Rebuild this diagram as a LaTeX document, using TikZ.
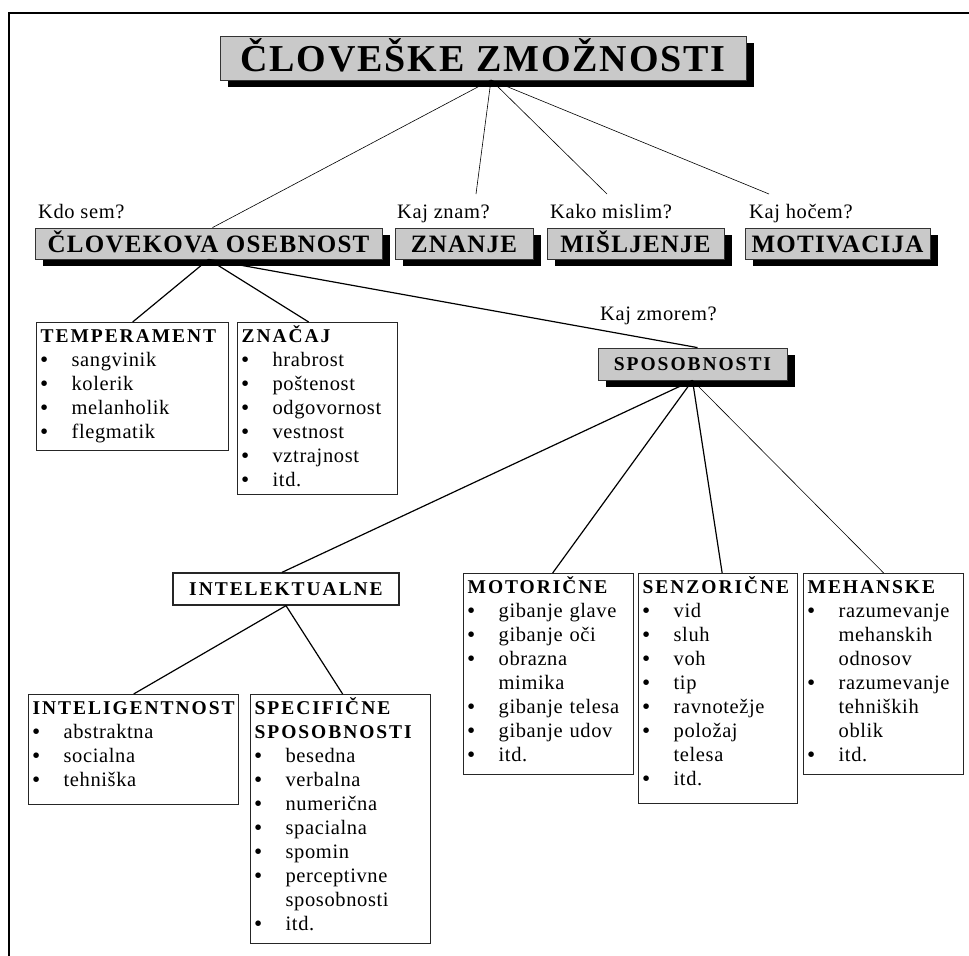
\documentclass[tikz,border=0pt]{standalone}
\usepackage{fontspec}
\setmainfont{Liberation Serif}[LetterSpace=3]
\newfontfamily\hdfont{Liberation Serif}[LetterSpace=10]
\newfontfamily\hdbigfont{Liberation Serif}[LetterSpace=5]
\usepackage{tikz}
\usetikzlibrary{shadows}

\newcommand{\hd}[1]{\mbox{\hdfont\bfseries\fontsize{19.5bp}{24bp}\selectfont #1}}
\newcommand{\blt}[1]{\mbox{\makebox[31bp][l]{\bfseries\textbullet}#1}}
\newcommand{\bltc}[1]{\mbox{\hspace*{31bp}#1}}

\begin{document}
\begin{tikzpicture}[font=\fontsize{20.5bp}{24bp}\selectfont,
  gbox/.style={draw=black!80,line width=0.8bp,fill=black!21,inner sep=0pt,text depth=0bp,
    drop shadow={shadow xshift=8bp,shadow yshift=-7bp,opacity=1,fill=black}},
  lbox/.style={draw=black!85,line width=1.3bp,fill=white,anchor=north west,align=left,
    inner xsep=4bp,inner ysep=0pt,text height=20bp},
  ask/.style={anchor=base west,inner sep=0pt},
  slimline/.style={line width=0.6bp},
  boldline/.style={line width=1.2bp}]

\useasboundingbox (0bp,0bp) rectangle (969bp,-956bp);
\draw [line width=1.2bp] (9bp,-956bp) -- (9bp,-13bp) -- (969bp,-13bp);

\node (CZ) at (483bp,-58bp)[gbox,minimum width=526bp,minimum height=44bp,text height=27bp,
  font=\hdbigfont\bfseries\fontsize{38bp}{40bp}\selectfont] {ČLOVEŠKE ZMOŽNOSTI};

\node (CO) at (208.5bp,-243.5bp)[gbox,minimum width=347bp,minimum height=31bp,text height=17bp,
  font=\hdbigfont\bfseries\fontsize{25bp}{30bp}\selectfont] {ČLOVEKOVA OSEBNOST};
\node (ZN) at (464bp,-243.5bp)[gbox,minimum width=138bp,minimum height=31bp,text height=17bp,
  font=\hdbigfont\bfseries\fontsize{25bp}{30bp}\selectfont] {ZNANJE};
\node (MI) at (635.5bp,-243.5bp)[gbox,minimum width=177bp,minimum height=31bp,text height=17bp,
  font=\hdbigfont\bfseries\fontsize{25bp}{30bp}\selectfont] {MIŠLJENJE};
\node (MO) at (837.5bp,-243.5bp)[gbox,minimum width=185bp,minimum height=31bp,text height=17bp,
  font=\hdbigfont\bfseries\fontsize{25bp}{30bp}\selectfont] {MOTIVACIJA};

\node (KS) at (38bp,-218bp)[ask] {Kdo sem?};
\node (KZ) at (397bp,-218bp)[ask] {Kaj znam?};
\node (KM) at (550bp,-218bp)[ask] {Kako mislim?};
\node (KH) at (749bp,-218bp)[ask] {Kaj hočem?};
\node (KZM) at (600bp,-320bp)[ask] {Kaj zmorem?};

\coordinate (CZb) at (491bp,-80bp);
\coordinate (qZN) at (476bp,-194bp);
\coordinate (qMI) at (607bp,-194bp);
\coordinate (qMO) at (769bp,-194bp);

\node (TE) at (36bp,-322bp)[lbox,text width=184bp,text depth=108bp]
  {\hd{TEMPERAMENT}\\ \blt{sangvinik}\\ \blt{kolerik}\\ \blt{melanholik}\\ \blt{flegmatik}};
\node (ZC) at (237bp,-322bp)[lbox,text width=152bp,text depth=152bp]
  {\hd{ZNAČAJ}\\ \blt{hrabrost}\\ \blt{poštenost}\\ \blt{odgovornost}\\ \blt{vestnost}\\
   \blt{vztrajnost}\\ \blt{itd.}};

\node (SP) at (692.5bp,-364bp)[gbox,minimum width=189bp,minimum height=32bp,text height=13bp] {\hd{SPOSOBNOSTI}};

\node (IN) at (286bp,-589bp)[draw=black!85,line width=1.3bp,fill=white,minimum width=226bp,
  minimum height=32bp,inner sep=0pt,text height=13bp,text depth=0bp] {\hd{INTELEKTUALNE}};

\node (IG) at (28bp,-694bp)[lbox,text width=202bp,text depth=90bp]
  {\hd{INTELIGENTNOST}\\ \blt{abstraktna}\\ \blt{socialna}\\ \blt{tehniška}};
\node (SS) at (250bp,-694bp)[lbox,text width=172bp,text depth=229bp]
  {\hd{SPECIFIČNE}\\ \hd{SPOSOBNOSTI}\\ \blt{besedna}\\ \blt{verbalna}\\ \blt{numerična}\\
   \blt{spacialna}\\ \blt{spomin}\\ \blt{perceptivne}\\ \bltc{sposobnosti}\\ \blt{itd.}};
\node (MT) at (463bp,-573bp)[lbox,text width=162bp,text depth=181bp]
  {\hd{MOTORIČNE}\\ \blt{gibanje glave}\\ \blt{gibanje oči}\\ \blt{obrazna}\\ \bltc{mimika}\\
   \blt{gibanje telesa}\\ \blt{gibanje udov}\\ \blt{itd.}};
\node (SZ) at (638bp,-573bp)[lbox,text width=151bp,text depth=210bp]
  {\hd{SENZORIČNE}\\ \blt{vid}\\ \blt{sluh}\\ \blt{voh}\\ \blt{tip}\\ \blt{ravnotežje}\\
   \blt{položaj}\\ \bltc{telesa}\\ \blt{itd.}};
\node (ME) at (803bp,-573bp)[lbox,text width=152bp,text depth=181bp]
  {\hd{MEHANSKE}\\ \blt{razumevanje}\\ \bltc{mehanskih}\\ \bltc{odnosov}\\ \blt{razumevanje}\\
   \bltc{tehniških}\\ \bltc{oblik}\\ \blt{itd.}};

\draw [slimline] (CZb) -- ([xshift=4bp]CO.north);
\draw [slimline] (CZb) -- (qZN);
\draw [slimline] (CZb) -- (qMI);
\draw [slimline] (CZb) -- (qMO);
\draw [boldline] (CO.south) -- (TE.north);
\draw [boldline] (CO.south) -- ([xshift=-9bp]ZC.north);
\draw [boldline] (CO.south) -- ([xshift=5bp]SP.north);
\draw [boldline] (SP.south) -- ([xshift=-4bp]IN.north);
\draw [boldline] (SP.south) -- ([xshift=4bp]MT.north);
\draw [boldline] (SP.south) -- ([xshift=4bp]SZ.north);
\draw [slimline] (SP.south) -- (ME.north);
\draw [boldline] (IN.south) -- (IG.north);
\draw [boldline] (IN.south) -- ([xshift=2bp]SS.north);
\end{tikzpicture}
\end{document}
